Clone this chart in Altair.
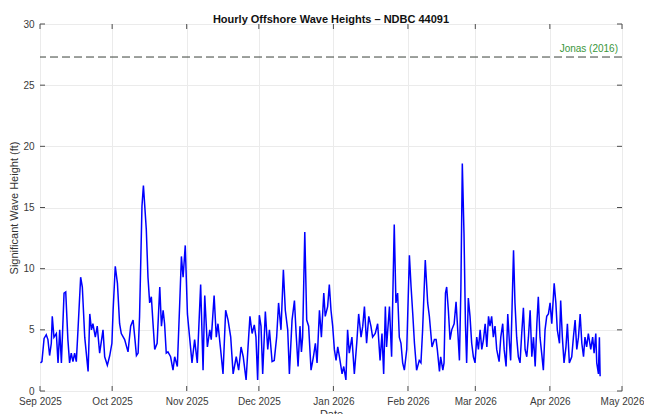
import altair as alt
import pandas as pd

# Days since 2025-09-01 00:00 and significant wave height (ft)
days = [0.2, 0.8, 1.7, 2.6, 3.3, 4.0, 4.7, 5.1, 5.8, 6.8, 7.5, 8.2, 8.9, 10.0, 10.7, 11.6,
        12.3, 13.0, 13.7, 14.4, 15.1, 15.8, 16.9, 17.6, 18.6, 20.0, 20.7, 21.4, 22.0, 23.0,
        23.8, 24.8, 26.2, 26.9, 28.0, 29.0, 29.9, 30.4, 31.3, 32.2, 33.1, 33.8, 35.2, 36.6,
        37.7, 38.7, 39.4, 40.1, 40.8, 41.4, 42.4, 43.0, 43.5, 44.2, 44.9, 45.6, 46.3, 47.0,
        47.7, 48.7, 49.8, 50.5, 51.2, 51.8, 52.5, 53.2, 54.3, 55.3, 56.0, 57.1, 58.1, 58.8,
        59.5, 60.4, 61.3, 62.2, 63.2, 64.3, 65.4, 66.8, 67.8, 68.5, 69.6, 70.6, 71.2, 72.4,
        73.3, 74.0, 75.1, 76.1, 77.2, 78.2, 79.3, 80.3, 81.6,
        82.6, 83.6, 84.5, 85.7, 86.5, 87.3, 88.2, 89.1, 89.8, 90.5, 91.2, 91.9, 92.6, 93.7,
        94.7, 95.4, 96.5, 97.4, 98.4, 99.2, 100.2, 101.2, 102.0, 103.0, 103.7, 104.8, 105.8,
        106.5, 107.3, 108.1, 108.7, 109.2, 110.1, 110.9, 111.7, 112.7, 113.7, 114.5, 115.2,
        116.2, 117.0, 118.0, 118.6, 119.6, 120.3, 121.0, 121.7, 122.4, 123.1, 123.8, 124.5,
        125.6, 126.3, 127.2, 127.9, 128.6, 129.7, 130.7, 131.7, 132.5, 133.5, 134.2, 134.9,
        135.8, 136.7, 137.6, 138.3, 139.4, 140.4, 141.4, 142.2, 142.9, 143.6, 144.1, 145.3,
        146.2, 147.3, 148.0, 148.7, 149.4, 150.1, 150.8, 151.5, 152.5, 153.6, 154.3, 155.0,
        155.7, 156.6, 157.7, 158.4, 159.1, 160.2, 161.2, 161.9, 163.0, 164.0,
        164.7, 165.2, 166.1, 166.6, 167.5, 168.0, 168.6, 169.1, 169.8, 170.5, 171.2, 172.2,
        173.0, 173.6, 174.4, 175.0, 175.6, 176.3, 176.9, 177.4, 178.1, 178.8, 179.5, 180.2,
        180.9, 181.6, 182.3, 183.0, 183.7, 184.4, 185.1, 185.8, 186.5, 187.1, 187.8, 188.5,
        189.2, 189.9, 190.9, 191.6, 192.4, 193.0, 193.8, 194.5, 195.2, 195.7, 196.3, 196.9,
        197.5, 198.2, 198.9, 199.6, 200.3, 201.0, 201.7, 202.4, 203.1, 203.8, 204.5, 205.2,
        205.9, 206.6, 207.2, 207.9, 208.6, 209.3, 210.0, 210.7, 211.4, 212.1, 212.8, 213.8,
        214.5, 215.1, 216.0, 216.5, 217.2, 217.9, 218.7, 219.3, 220.1, 221.1, 221.8, 222.5,
        223.2, 223.9, 224.6, 225.3, 226.0, 226.6, 227.3, 228.0, 229.0, 229.8, 230.4, 231.1,
        231.5, 232.2, 232.6, 232.9]

heights = [2.3, 2.4, 4.3, 4.6, 4.2, 2.9, 3.9, 6.1, 4.4, 4.7, 2.3, 5.0, 2.3, 8.0, 8.1, 4.2,
           2.3, 3.1, 2.4, 3.1, 2.4, 5.0, 9.3, 8.5, 4.4, 1.6, 6.3, 5.0, 5.5, 4.4,
           5.3, 3.1, 5.0, 2.8, 2.1, 2.9, 3.9, 6.6, 10.2, 8.8, 5.5, 4.7, 4.2, 3.2,
           5.3, 5.8, 4.4, 2.9, 3.1, 6.1, 15.1, 16.8, 15.3, 13.2, 9.3, 7.2, 7.7, 5.5,
           3.4, 3.9, 8.5, 5.3, 6.6, 5.5, 3.1, 3.2, 2.8, 1.7, 2.8, 2.0, 7.2, 11.0,
           9.3, 11.9, 6.3, 4.4, 2.3, 4.2, 2.3, 8.7, 1.7, 7.8, 3.6, 5.0, 4.2, 7.8,
           4.4, 5.5, 3.4, 1.4, 6.6, 5.8, 4.4, 1.4, 2.8,
           1.7, 3.6, 2.8, 0.9, 3.6, 6.1, 4.7, 5.4, 4.4, 0.9, 6.2, 5.3, 1.4, 6.5,
           3.4, 5.0, 2.4, 2.5, 4.4, 7.2, 5.0, 9.9, 6.6, 5.0, 1.4, 5.8, 7.4,
           4.7, 2.0, 5.3, 3.2, 4.4, 13.0, 5.8, 5.3, 1.7, 2.8, 3.9, 2.3,
           6.6, 4.4, 8.0, 6.1, 6.9, 8.7, 6.6, 5.3, 3.4, 2.5, 3.6, 2.8,
           1.4, 2.0, 0.9, 5.0, 3.1, 4.4, 1.4, 3.9, 6.3, 4.4, 5.3, 6.9,
           3.9, 6.1, 5.3, 4.4, 4.7, 5.5, 2.5, 4.7, 1.4, 6.9, 3.6, 6.9,
           2.8, 13.6, 7.2, 8.0, 4.4, 3.9, 2.3, 1.7, 3.4, 11.1, 8.5, 6.3,
           3.9, 1.7, 2.5, 2.3, 5.0, 10.7, 7.2, 6.1, 3.6, 4.2,
           4.2, 3.4, 1.6, 2.8, 1.7, 2.3, 8.0, 8.5, 6.6, 4.2, 5.0, 5.5,
           7.3, 5.3, 2.5, 8.3, 18.6, 12.9, 5.5, 2.3, 7.6, 6.1, 3.9, 2.8,
           2.3, 4.4, 3.4, 5.0, 3.4, 4.2, 5.5, 3.6, 6.1, 5.3, 6.1, 4.4,
           5.3, 3.4, 2.4, 4.4, 5.5, 3.4, 2.0, 6.3, 3.9, 2.5, 6.9, 11.5,
           7.2, 4.4, 2.8, 2.3, 4.7, 6.8, 3.4, 2.8, 4.4, 6.6, 2.8, 4.4,
           2.0, 5.5, 7.7, 4.4, 3.1, 1.7, 5.0, 6.1, 6.3, 7.2, 5.5, 8.8,
           7.2, 5.0, 3.9, 7.4, 4.4, 2.3, 3.6, 5.5, 2.3, 2.8, 4.4, 5.8,
           3.4, 4.4, 6.3, 3.9, 2.8, 4.4, 3.6, 4.7, 3.4, 4.4, 3.1, 4.7,
           2.3, 1.4, 4.4, 1.2]

start = "2025-09-01"
tick_dates = ["2025-09-01", "2025-10-01", "2025-11-01", "2025-12-01", "2026-01-01",
              "2026-02-01", "2026-03-01", "2026-04-01", "2026-05-01"]
y_ticks = [0, 5, 10, 15, 20, 25, 30]
ref_value = 27.3
ref_label = "Jonas (2016)"

t0 = pd.Timestamp(start)
df = pd.DataFrame({
    "time": [(t0 + pd.Timedelta(days=d)).strftime("%Y-%m-%dT%H:%M:%S") for d in days],
    "hs": heights,
})
ticks_df = pd.DataFrame({"time": [d + "T00:00:00" for d in tick_dates]})
yt_df = pd.DataFrame({"v": y_ticks})
ref_df = pd.DataFrame({"v": [ref_value], "label": [ref_label]})

FONT = "Liberation Sans"
W, H = 582, 367

xdom = [tick_dates[0] + "T00:00:00", tick_dates[-1] + "T00:00:00"]
xscale = alt.Scale(domain=xdom)
yscale = alt.Scale(domain=[0, 30], nice=False)

xaxis = alt.Axis(values=[d + "T00:00:00" for d in tick_dates], format="%b %Y",
                 title="Date", labelFlush=False, labelOverlap=False, tickSize=0,
                 labelPadding=5, domain=False, grid=True, gridColor="#ebebeb",
                 labelFont=FONT, labelFontSize=10, labelColor="#3a3a3a",
                 titleFont=FONT, titleFontSize=11, titleFontWeight="normal",
                 titleColor="#333333", titlePadding=2)
yaxis = alt.Axis(values=y_ticks, title="Significant Wave Height (ft)", tickSize=0,
                 labelPadding=6, domain=False, grid=True, gridColor="#ebebeb",
                 labelFont=FONT, labelFontSize=10, labelColor="#3a3a3a",
                 labelFlush=False, titleFont=FONT, titleFontSize=11,
                 titleFontWeight="normal", titleColor="#333333", titlePadding=3)

line = alt.Chart(df).mark_line(color="#0000ff", strokeWidth=1.5).encode(
    x=alt.X("time:T", scale=xscale, axis=xaxis),
    y=alt.Y("hs:Q", scale=yscale, axis=yaxis),
)

ref_rule = alt.Chart(ref_df).mark_rule(color="#3a423a", strokeWidth=1,
                                       strokeDash=[8, 4]).encode(
    y=alt.Y("v:Q", scale=yscale),
)
ref_text = alt.Chart(ref_df).mark_text(align="right", baseline="bottom", dy=-3,
                                       font=FONT, fontSize=10, color="#3a963a").encode(
    x=alt.value(W - 4),
    y=alt.Y("v:Q", scale=yscale),
    text="label:N",
)

tick_color = "#4d4d4d"
xt_bot = alt.Chart(ticks_df).mark_rule(color=tick_color).encode(
    x=alt.X("time:T", scale=xscale), y=alt.value(H), y2=alt.value(H - 5))
xt_top = alt.Chart(ticks_df).mark_rule(color=tick_color).encode(
    x=alt.X("time:T", scale=xscale), y=alt.value(0), y2=alt.value(5))
yt_left = alt.Chart(yt_df).mark_rule(color=tick_color).encode(
    y=alt.Y("v:Q", scale=yscale), x=alt.value(0), x2=alt.value(5))
yt_right = alt.Chart(yt_df).mark_rule(color=tick_color).encode(
    y=alt.Y("v:Q", scale=yscale), x=alt.value(W), x2=alt.value(W - 5))

chart = alt.layer(line, ref_rule, ref_text, xt_bot, xt_top, yt_left, yt_right).properties(
    width=W, height=H,
    title=alt.TitleParams("Hourly Offshore Wave Heights \u2013 NDBC 44091", font=FONT,
                          fontSize=11, fontWeight="bold", color="#111111", offset=-6,
                          anchor="middle"),
    autosize=alt.AutoSizeParams(type="none"),
    padding={"left": 32, "top": 16, "right": 22, "bottom": 23},
).configure_view(stroke="#4d4d4d", strokeWidth=1).configure(background="white")

chart.save("out.html", embed_options={"renderer": "svg", "actions": False})
